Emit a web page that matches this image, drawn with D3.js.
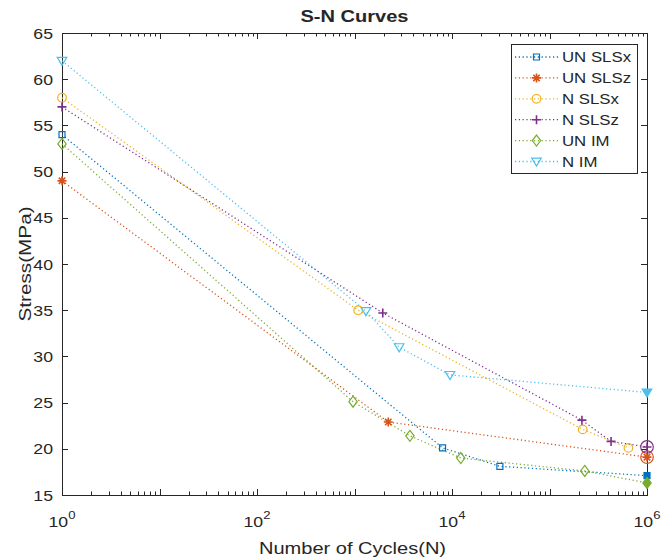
<!DOCTYPE html>
<html>
<head>
<meta charset="utf-8">
<script src="https://cdn.jsdelivr.net/npm/d3@7"></script>
<style>
  body { margin: 0; background: #fff; }
  text { font-family: "Liberation Sans", Arial, sans-serif; fill: #262626; }
</style>
</head>
<body>
<div id="chart"></div>
<script>
// series (cycles, stress MPa)
const seriesNames = ["UN SLSx", "UN SLSz", "N SLSx", "N SLSz", "UN IM", "N IM"];
const colors = ["#0072BD", "#D95319", "#EDB120", "#7E2F8E", "#77AC30", "#4DBEEE"];
const markers = ["square", "asterisk", "circle", "plus", "diamond", "triangle"];

const unSLSxN = [1, 8000, 31000, 1e6];
const unSLSxS = [54, 20.1, 18.1, 17.1];
const unSLSzN = [1, 2220, 1e6];
const unSLSzS = [49, 22.9, 19.1];
const nSLSxN = [1, 1090, 219000, 645000];
const nSLSxS = [58, 35, 22.1, 20.1];
const nSLSzN = [1, 1950, 215000, 428000, 1e6];
const nSLSzS = [57, 34.7, 23.1, 20.8, 20.2];
const unIMN = [1, 966, 3700, 12300, 230000, 1e6];
const unIMS = [53, 25.1, 21.4, 19, 17.6, 16.3];
const nIMN = [1, 1310, 2870, 9540, 1e6];
const nIMS = [62, 34.9, 31, 28, 26.1];

// points at 1e6 are run-outs (filled / circled)
const runout = 1e6;

const xTickExp = [0, 2, 4, 6];
const yTicks = [15, 20, 25, 30, 35, 40, 45, 50, 55, 60, 65];

const allN = [unSLSxN, unSLSzN, nSLSxN, nSLSzN, unIMN, nIMN];
const allS = [unSLSxS, unSLSzS, nSLSxS, nSLSzS, unIMS, nIMS];
const series = seriesNames.map((name, i) => ({
  name, color: colors[i], marker: markers[i],
  pts: allN[i].map((n, j) => ({ n, s: allS[i][j] }))
}));

const W = 661, H = 560;
const m = { left: 62, right: 14, top: 33, bottom: 65 };
const iw = W - m.left - m.right, ih = H - m.top - m.bottom;

const svg = d3.select("#chart").append("svg").attr("width", W).attr("height", H);
const g = svg.append("g").attr("transform", `translate(${m.left},${m.top})`);

const x = d3.scaleLog().domain([1, 1e6]).range([0, iw]);
const y = d3.scaleLinear().domain([15, 65]).range([ih, 0]);

const axisColor = "#262626";
const stretch = 1.18; // reference glyphs are drawn wider than Arial

// text helper: places text at (px,py) and widens it horizontally
function label(sel, px, py, str, opts) {
  const t = sel.append("text")
    .attr("transform", `translate(${px},${py})${opts.rotate ? " rotate(-90)" : ""} scale(${opts.sx || stretch},1)`)
    .attr("text-anchor", opts.anchor || "start")
    .attr("font-size", opts.size);
  if (opts.dy) t.attr("dy", opts.dy);
  if (opts.bold) t.attr("font-weight", "bold");
  if (opts.fill) t.attr("fill", opts.fill);
  if (str !== null) t.text(str);
  return t;
}

// ticks (inward), all four sides
const logTicks = x.ticks();
function isMajor(v) { return Math.abs(Math.log10(v) - Math.round(Math.log10(v))) < 1e-9; }
const tg = g.append("g").attr("stroke", axisColor).attr("stroke-width", 1);
logTicks.forEach(v => {
  const len = isMajor(v) ? 6 : 3.5;
  const px = Math.round(x(v)) + 0.5;
  tg.append("line").attr("x1", px).attr("x2", px).attr("y1", ih).attr("y2", ih - len);
  tg.append("line").attr("x1", px).attr("x2", px).attr("y1", 0).attr("y2", len);
});
yTicks.forEach(v => {
  const py = Math.round(y(v)) + 0.5;
  tg.append("line").attr("x1", 0).attr("x2", 6).attr("y1", py).attr("y2", py);
  tg.append("line").attr("x1", iw).attr("x2", iw - 6).attr("y1", py).attr("y2", py);
});
g.append("rect").attr("x", 0.5).attr("y", 0.5).attr("width", iw).attr("height", ih)
  .attr("fill", "none").attr("stroke", axisColor).attr("stroke-width", 1);

// tick labels
yTicks.forEach(v => {
  label(g, -9, y(v), v, { anchor: "end", size: 15.5, dy: "0.36em", sx: 1.14 });
});
xTickExp.forEach(e => {
  const t = label(g, x(Math.pow(10, e)), ih + 32, null, { anchor: "middle", size: 15.5, sx: 1.14 });
  t.append("tspan").text("10");
  t.append("tspan").attr("dy", -8).attr("font-size", 11.5).text(e);
});

// titles
label(svg, m.left + iw / 2, 21.5, "S-N Curves", { anchor: "middle", size: 17, bold: true, fill: "#000" });
label(svg, m.left + iw / 2 - 2, 554, "Number of Cycles(N)", { anchor: "middle", size: 17 });
label(svg, 31, m.top + ih / 2, "Stress(MPa)", { anchor: "middle", size: 17, rotate: true, sx: 1.22 });

// marker shapes
function markerPath(type) {
  switch (type) {
    case "square": return "M-3,-3H3V3H-3Z";
    case "circle": return d3.symbol(d3.symbolCircle, Math.PI * 4.3 * 4.3)();
    case "diamond": return "M0,-5.5L4.2,0L0,5.5L-4.2,0Z";
    case "triangle": return "M-4.8,-3.4H4.8L0,4.6Z";
    case "plus": return "M-4.5,0H4.5M0,-4.5V4.5";
    case "asterisk": return "M-4.5,0H4.5M0,-4.5V4.5M-3.2,-3.2L3.2,3.2M-3.2,3.2L3.2,-3.2";
  }
}
function drawMarker(sel, s, filled) {
  const open = s.marker === "plus" || s.marker === "asterisk";
  sel.append("path").attr("d", markerPath(s.marker))
    .attr("fill", filled && !open ? s.color : "none")
    .attr("stroke", s.color).attr("stroke-width", open ? 1.6 : 1.2);
  if (filled && open) {
    sel.append("path").attr("d", d3.symbol(d3.symbolCircle, Math.PI * 6.3 * 6.3)())
      .attr("fill", "none").attr("stroke", s.color).attr("stroke-width", 1.2);
  }
}

const line = d3.line().x(d => x(d.n)).y(d => y(d.s));

series.forEach(s => {
  g.append("path").datum(s.pts).attr("d", line).attr("fill", "none")
    .attr("stroke", s.color).attr("stroke-width", 1.3).attr("stroke-dasharray", "1.2,2.6");
});
series.forEach(s => {
  s.pts.forEach(p => {
    const mg = g.append("g").attr("transform", `translate(${x(p.n)},${y(p.s)})`);
    drawMarker(mg, s, p.n === runout);
  });
});

// legend
const lg = svg.append("g").attr("transform", "translate(511,44)");
lg.append("rect").attr("x", 0.5).attr("y", 0.5).attr("width", 126).attr("height", 129)
  .attr("fill", "#fff").attr("stroke", axisColor).attr("stroke-width", 1);
series.forEach((s, i) => {
  const yy = 13 + i * 20.9;
  lg.append("line").attr("x1", 4).attr("x2", 47).attr("y1", yy).attr("y2", yy)
    .attr("stroke", s.color).attr("stroke-width", 1.3).attr("stroke-dasharray", "1.2,2.6");
  const mg = lg.append("g").attr("transform", `translate(25.5,${yy})`);
  drawMarker(mg, s, false);
  label(lg, 51, yy, s.name, { size: 14, dy: "0.36em", fill: "#000", sx: 1.2 });
});
</script>
</body>
</html>
